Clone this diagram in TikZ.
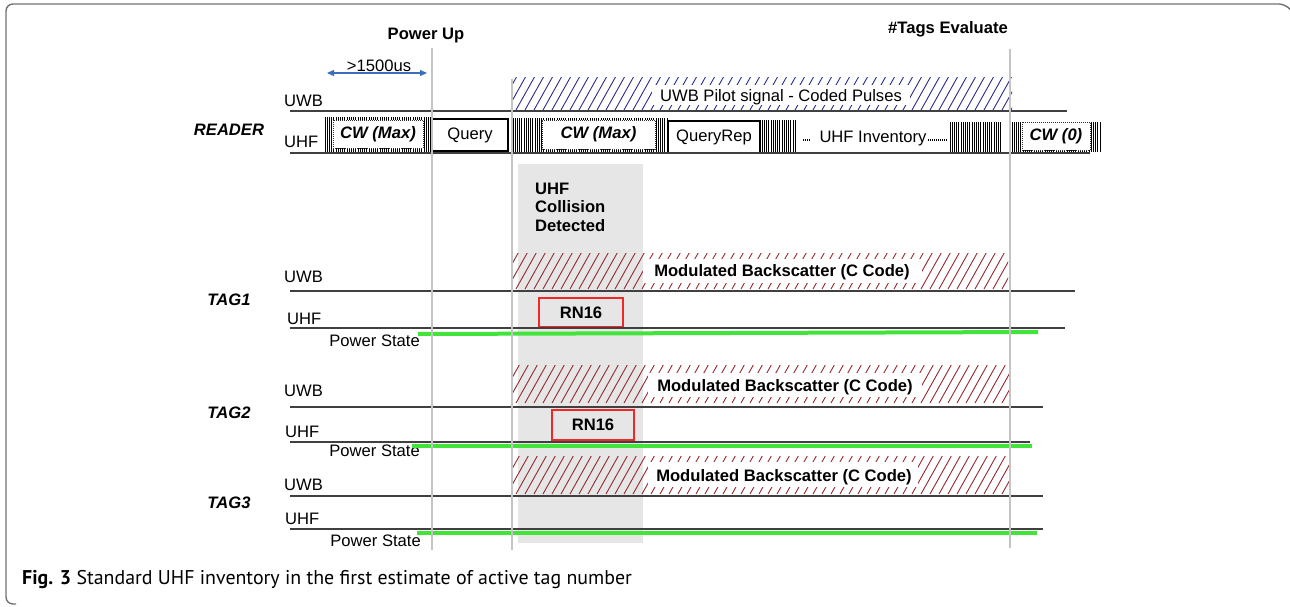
\documentclass[tikz,border=0pt]{standalone}
\usepackage{fontspec}
\setmainfont{Liberation Sans}
\newfontfamily\capfont{PT Sans}
\usetikzlibrary{arrows.meta}

\definecolor{uwbblue}{RGB}{40,44,140}
\definecolor{bsred}{RGB}{150,40,45}
\definecolor{rnred}{RGB}{240,40,40}
\definecolor{pwrgreen}{RGB}{66,228,60}
\definecolor{markgray}{RGB}{196,196,196}
\definecolor{collgray}{RGB}{230,230,230}
\definecolor{arrblue}{RGB}{60,110,190}

% diagonal hatching clipped to a band: x1,y1,x2,y2,colour
\newcommand\hatchband[5]{%
  \begin{scope}
    \clip (#1,#2) rectangle (#3,#4);
    \foreach \k in {0,...,62}
      \draw[#5, line width=0.9pt] ({#1-22+9*\k},#4) -- ++({0.56*(#4-#2)},{-(#4-#2)});
  \end{scope}}

% dense vertical carrier stripes: x1,x2,y1,y2
\newcommand\carrier[4]{%
  \pgfmathtruncatemacro\nstripes{(#2-#1)/2.2}
  \foreach \k in {0,...,\nstripes}
    \draw[black, line width=0.8pt] ({#1+2.2*\k},#3) -- ({#1+2.2*\k},#4);}

\begin{document}
\begin{tikzpicture}[x=1pt,y=-1pt,
  font=\fontsize{16.6}{19}\selectfont,
  lbl/.style={anchor=west, inner sep=0pt},
  sig/.style={draw=black!75, line width=1.2pt},
  marker/.style={draw=markgray, line width=2.4pt},
  power/.style={draw=pwrgreen, line width=4pt},
  plainbox/.style={draw=black, line width=1.3pt, fill=white, inner sep=0pt},
  cwbox/.style={draw=black!80, densely dotted, line width=1pt, fill=white, inner sep=0pt, font=\fontsize{16.6}{19}\selectfont\bfseries\itshape},
  rnbox/.style={draw=rnred, line width=1.3pt, inner sep=0pt, font=\fontsize{16.6}{19}\selectfont\bfseries},
  tagname/.style={inner sep=0pt, font=\fontsize{16.6}{19}\selectfont\bfseries\itshape},
  heading/.style={inner sep=0pt, font=\fontsize{16.6}{19}\selectfont\bfseries},
  bslabel/.style={fill=white, inner sep=0pt, font=\fontsize{16.6}{19}\selectfont\bfseries}
]
\useasboundingbox (0,0) rectangle (1290,606);

% outer frame
\draw[black!55, line width=1.4pt, rounded corners=7pt]
  (1289,8) -- (1286,4) -- (6,4) -- (6,604) -- (16,604);

% collision window
\fill[collgray] (518,164) rectangle (643,543);
\node[heading, anchor=west, align=left, font=\fontsize{16.6}{18.6}\selectfont\bfseries] (coll) at (535,207) {UHF\\Collision\\Detected};

% ---------------- READER ----------------
\node[tagname] (reader) at (229,130) {READER};
\node[lbl] (ruwb) at (284,101) {UWB};
\node[lbl] (ruhf) at (284,142) {UHF};

% UWB pilot signal
\hatchband{511}{77}{1012}{110}{uwbblue}
\fill[white] (652,85) rectangle (910,105);
\node[inner sep=0pt] (pilot) at (781,97) {UWB Pilot signal - Coded Pulses};
\coordinate (ruwbA) at (290,111);
\coordinate (ruwbB) at (1067,111);
\draw[sig] (ruwbA) -- (ruwbB);

% UHF carrier
\carrier{325}{431}{117}{152}
\carrier{513}{667}{118}{152}
\carrier{760}{797}{120}{152}
\carrier{950}{1002}{122}{152}
\carrier{1012}{1102}{122}{152}
\node[cwbox, minimum width=90pt, minimum height=28pt] (cw1) at (378,134) {CW (Max)};
\node[plainbox, minimum width=76pt, minimum height=32pt] (query) at (470,135) {Query};
\node[cwbox, minimum width=113pt, minimum height=29pt] (cw2) at (598.5,134.5) {CW (Max)};
\node[plainbox, minimum width=92pt, minimum height=32pt] (qrep) at (714,137) {QueryRep};
\node[inner sep=0pt] (inv) at (873,139) {UHF Inventory};
\coordinate (dotsA1) at (803,140); \coordinate (dotsA2) at (810,140);
\coordinate (dotsB1) at (928,140); \coordinate (dotsB2) at (947,140);
\draw[black, line width=1.2pt, dash pattern=on 1pt off 1pt] (dotsA1) -- (dotsA2);
\draw[black, line width=1.2pt, dash pattern=on 1pt off 1pt] (dotsB1) -- (dotsB2);
\node[cwbox, minimum width=68pt, minimum height=28pt] (cw0) at (1056,136) {CW (0)};
\coordinate (ruhfA) at (290,153);
\coordinate (ruhfB) at (1090,153);
\draw[sig] (ruhfA) -- (ruhfB);

% ---------------- TAG1 ----------------
\node[tagname] (tag1) at (229,300) {TAG1};
\node[lbl] (t1uwb) at (284,277) {UWB};
\node[lbl] (t1uhf) at (287,319) {UHF};
\node[anchor=east, inner sep=0pt] (t1pwr) at (420,341) {Power State};
\hatchband{511}{253}{1008}{289}{bsred}
\fill[white] (643,259) rectangle (922,283);
\node[bslabel] (bs1) at (782,272) {Modulated Backscatter (C Code)};
\coordinate (t1uwbA) at (290,291); \coordinate (t1uwbB) at (1075,291);
\draw[sig] (t1uwbA) -- (t1uwbB);
\node[rnbox, minimum width=84pt, minimum height=29pt] (rn1) at (581,312.5) {RN16};
\coordinate (t1uhfA) at (290,328); \coordinate (t1uhfB) at (1065,328);
\draw[sig] (t1uhfA) -- (t1uhfB);
\coordinate (t1pA) at (418,334); \coordinate (t1pB) at (1038,332);
\draw[power] (t1pA) -- (t1pB);

% ---------------- TAG2 ----------------
\node[tagname] (tag2) at (229,413) {TAG2};
\node[lbl] (t2uwb) at (284,391) {UWB};
\node[lbl] (t2uhf) at (285,432) {UHF};
\node[anchor=east, inner sep=0pt] (t2pwr) at (420,451) {Power State};
\hatchband{511}{365}{1010}{403}{bsred}
\fill[white] (648,373) rectangle (922,397);
\node[bslabel] (bs2) at (785,387) {Modulated Backscatter (C Code)};
\coordinate (t2uwbA) at (290,407); \coordinate (t2uwbB) at (1043,407);
\draw[sig] (t2uwbA) -- (t2uwbB);
\node[rnbox, minimum width=82pt, minimum height=30pt] (rn2) at (593,425) {RN16};
\coordinate (t2uhfA) at (290,442); \coordinate (t2uhfB) at (1030,442);
\draw[sig] (t2uhfA) -- (t2uhfB);
\coordinate (t2pA) at (412,446); \coordinate (t2pB) at (1032,446);
\draw[power] (t2pA) -- (t2pB);

% ---------------- TAG3 ----------------
\node[tagname] (tag3) at (229,503) {TAG3};
\node[lbl] (t3uwb) at (284,485) {UWB};
\node[lbl] (t3uhf) at (285,519) {UHF};
\node[anchor=east, inner sep=0pt] (t3pwr) at (421,541) {Power State};
\hatchband{511}{456}{1010}{494}{bsred}
\fill[white] (648,462) rectangle (918,487);
\node[bslabel] (bs3) at (784,477) {Modulated Backscatter (C Code)};
\coordinate (t3uwbA) at (290,496); \coordinate (t3uwbB) at (1043,496);
\draw[sig] (t3uwbA) -- (t3uwbB);
\coordinate (t3uhfA) at (290,529); \coordinate (t3uhfB) at (1043,529);
\draw[sig] (t3uhfA) -- (t3uhfB);
\coordinate (t3pA) at (417,533); \coordinate (t3pB) at (1037,533);
\draw[power] (t3pA) -- (t3pB);

% ---------------- event markers ----------------
\node[heading] (pwrup) at (426,36) {Power Up};
\node[heading] (tagsev) at (948,29) {\#Tags Evaluate};
\coordinate (m1a) at (432,48);  \coordinate (m1b) at (432,550);
\coordinate (m2a) at (512,79);  \coordinate (m2b) at (512,550);
\coordinate (m3a) at (1010,49); \coordinate (m3b) at (1010,548);
\draw[marker] (m1a) -- (m1b);
\draw[marker] (m2a) -- (m2b);
\draw[marker] (m3a) -- (m3b);

% start-up delay
\coordinate (dl) at (327,73);
\coordinate (dr) at (427,73);
\draw[arrblue, line width=1.2pt, {Triangle[length=7pt,width=6pt]}-{Triangle[length=7pt,width=6pt]}] (dl) -- (dr);
\node[inner sep=0pt] (delay) at (379,66) {>1500us};

% caption
\node[anchor=west, inner sep=0pt, font=\capfont\fontsize{19.9}{22}\selectfont] (cap) at (22,580)
  {\textbf{Fig. 3} Standard UHF inventory in the first estimate of active tag number};
\end{tikzpicture}
\end{document}
